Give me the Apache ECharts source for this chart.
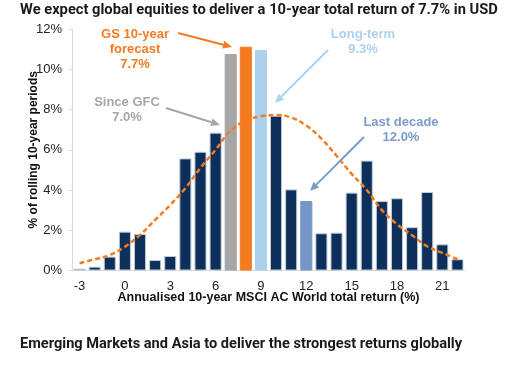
<!DOCTYPE html>
<html>
<head>
<meta charset="utf-8">
<script src="https://cdn.jsdelivr.net/npm/echarts@6/dist/echarts.min.js"></script>
<style>html,body{margin:0;padding:0;background:#fff;}#c{width:531px;height:365px;}</style>
</head>
<body>
<div id="c"></div>
<script>
var categories = ['-3','-2','-1','0','1','2','3','4','5','6','7','8','9','10','11','12','13','14','15','16','17','18','19','20','21','22'];
var barValues = [0.09,0.19,0.69,1.93,1.81,0.52,0.72,5.57,5.90,6.85,10.76,11.12,10.96,7.69,4.03,3.45,1.85,1.88,3.87,5.46,3.45,3.59,2.15,3.90,1.30,0.56];
var curveValues = [0.36,0.56,0.77,1.18,1.77,2.51,3.26,4.09,5.1,6.0,6.95,7.45,7.66,7.73,7.6,7.2,6.55,5.7,4.8,4.0,3.0,2.3,1.75,1.2,0.88,0.56];
var highlights = {'7':'#a6a6a6','8':'#f47b20','9':'#acd1ef','12':'#7497c9'};
var navy = '#0c2f5b';

var chart = echarts.init(document.getElementById('c'), null, {renderer:'canvas'});

function arrow(x1,y1,x2,y2,color){
  var dx=x2-x1, dy=y2-y1, L=Math.sqrt(dx*dx+dy*dy), ux=dx/L, uy=dy/L;
  var hl=9, hw=4;
  var bx=x2-ux*hl, by=y2-uy*hl;
  return [
    {type:'line', shape:{x1:x1,y1:y1,x2:bx,y2:by}, style:{stroke:color,lineWidth:2}, z:10},
    {type:'polygon', shape:{points:[[x2,y2],[bx-uy*hw,by+ux*hw],[bx+uy*hw,by-ux*hw]]}, style:{fill:color}, z:10}
  ];
}
function label(x,y,lines,color){
  return {type:'text', x:x, y:y, style:{text:lines.join('\n'), fill:color, font:'bold 13px "Liberation Sans", Arial, sans-serif', textAlign:'center', textVerticalAlign:'top', lineHeight:15}, z:10};
}

var graphics = [].concat(
  [label(135,27,['GS 10-year','forecast','7.7%'],'#f47b20')],
  arrow(178,33,232,47,'#f47b20'),
  [label(127,95,['Since GFC','7.0%'],'#a6a6a6')],
  arrow(166,108,220,125,'#a6a6a6'),
  [label(363,27,['Long-term','9.3%'],'#acd1ef')],
  arrow(328,50,275,103,'#acd1ef'),
  [label(401,115,['Last decade','12.0%'],'#7a9cc9')],
  arrow(364,137,310,191,'#7a9cc9')
);

var option = {
  animation:false,
  backgroundColor:'#fff',
  title:[
    {text:'We expect global equities to deliver a 10-year total return of 7.7% in USD', left:20, top:3, padding:0,
     textStyle:{fontFamily:'Roboto, sans-serif', fontWeight:'bold', fontSize:14.7, color:'#1a1a1a'}},
    {text:'Emerging Markets and Asia to deliver the strongest returns globally', left:20, top:337, padding:0,
     textStyle:{fontFamily:'Roboto, sans-serif', fontWeight:'bold', fontSize:14.6, color:'#1a1a1a'}}
  ],
  grid:{left:72, right:66, top:29, bottom:94.5},
  xAxis:{
    type:'category', data:categories,
    name:'Annualised 10-year MSCI AC World total return (%)', nameLocation:'middle', nameGap:21, nameMoveOverlap:false,
    nameTextStyle:{fontFamily:'"Liberation Sans", Arial, sans-serif', fontWeight:'bold', fontSize:12.5, color:'#111'},
    axisLine:{lineStyle:{color:'#d9d9d9'}},
    axisTick:{interval:2, length:4, lineStyle:{color:'#d9d9d9'}},
    axisLabel:{interval:2, margin:9, fontFamily:'"Liberation Sans", Arial, sans-serif', fontSize:13, color:'#222'}
  },
  yAxis:{
    type:'value', min:0, max:12, interval:2,
    name:'% of rolling 10-year periods', nameLocation:'middle', nameGap:38, nameRotate:90, nameMoveOverlap:false,
    nameTextStyle:{fontFamily:'"Liberation Sans", Arial, sans-serif', fontWeight:'bold', fontSize:12, color:'#111', verticalAlign:'middle'},
    axisLine:{show:true, lineStyle:{color:'#d9d9d9'}},
    axisTick:{show:true, length:3, lineStyle:{color:'#d9d9d9'}},
    splitLine:{show:false},
    axisLabel:{formatter:'{value}%', margin:10, fontFamily:'"Liberation Sans", Arial, sans-serif', fontSize:13, color:'#222'}
  },
  series:[
    {type:'bar', barCategoryGap:'20%',
     data:barValues.map(function(v,i){
       var c = highlights[categories[i]] || navy;
       return {value:v, itemStyle:{color:c, borderColor: highlights[categories[i]] ? c : '#c2ccd8', borderWidth:1}};
     })},
    {type:'line', data:curveValues, smooth:0.4, symbol:'none', z:5,
     lineStyle:{color:'#f47b20', width:2.5, type:[5,3]}}
  ],
  graphic:graphics
};
chart.setOption(option);
</script>
</body>
</html>
